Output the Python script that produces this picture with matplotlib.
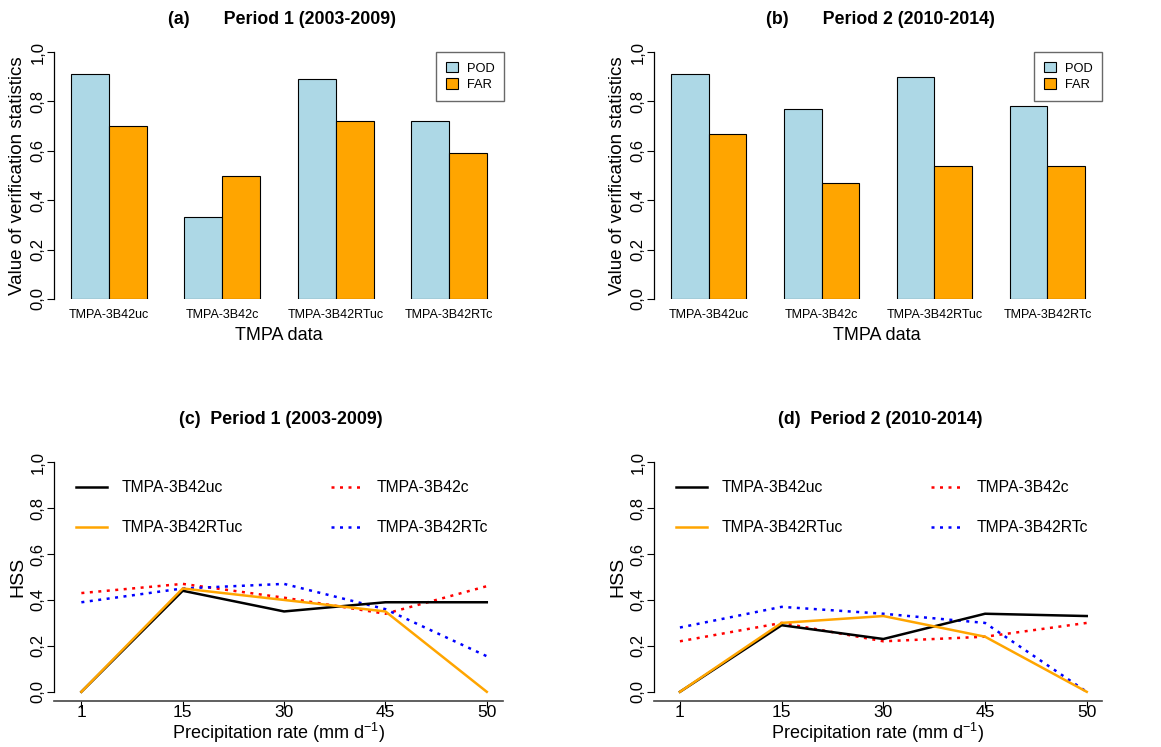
import numpy as np
import matplotlib.pyplot as plt
from matplotlib.patches import Patch
from matplotlib.lines import Line2D

plt.rcParams.update({
    "font.family": ["Liberation Sans", "DejaVu Sans"],
    "mathtext.fontset": "custom",
    "mathtext.rm": "Liberation Sans",
    "mathtext.default": "regular",
})

# --- data -------------------------------------------------------------------
products = ["TMPA-3B42uc", "TMPA-3B42c", "TMPA-3B42RTuc", "TMPA-3B42RTc"]
pod_p1 = [0.91, 0.33, 0.89, 0.72]
far_p1 = [0.70, 0.50, 0.72, 0.59]
pod_p2 = [0.91, 0.77, 0.90, 0.78]
far_p2 = [0.67, 0.47, 0.54, 0.54]

rates = ["1", "15", "30", "45", "50"]
hss_p1 = {
    "TMPA-3B42uc":   [0.00, 0.44, 0.35, 0.39, 0.39],
    "TMPA-3B42RTuc": [0.00, 0.45, 0.40, 0.35, 0.00],
    "TMPA-3B42c":    [0.43, 0.47, 0.41, 0.34, 0.46],
    "TMPA-3B42RTc":  [0.39, 0.45, 0.47, 0.36, 0.155],
}
hss_p2 = {
    "TMPA-3B42uc":   [0.00, 0.29, 0.23, 0.34, 0.33],
    "TMPA-3B42RTuc": [0.00, 0.30, 0.33, 0.24, 0.00],
    "TMPA-3B42c":    [0.22, 0.30, 0.22, 0.24, 0.30],
    "TMPA-3B42RTc":  [0.28, 0.37, 0.34, 0.30, 0.00],
}

POD_C, FAR_C = "#ADD8E6", "#FFA500"
LINE_STYLE = {
    "TMPA-3B42uc":   dict(color="black", ls="-"),
    "TMPA-3B42RTuc": dict(color="#FFA500", ls="-"),
    "TMPA-3B42c":    dict(color="red", ls=(0, (1.2, 2.2))),
    "TMPA-3B42RTc":  dict(color="blue", ls=(0, (1.2, 2.2))),
}

W, H = 1161, 747
fig = plt.figure(figsize=(W / 100, H / 100), dpi=100)


def px_axes(l, t, r, b):
    return fig.add_axes([l / W, 1 - b / H, (r - l) / W, (b - t) / H])


def ftext(x, y, s, **kw):
    fig.text(x / W, 1 - y / H, s, ha="center", va="center", **kw)


def yaxis_r(ax):
    ticks = np.arange(0, 1.01, 0.2)
    ax.set_yticks(ticks)
    ax.set_yticklabels([f"{t:.1f}".replace(".", ",") for t in ticks],
                       rotation=90, va="center", fontsize=12)
    ax.tick_params(axis="y", length=5, width=0.8, pad=1)
    ax.spines[["top", "right"]].set_visible(False)
    ax.spines["left"].set_bounds(0, 1)
    ax.spines["left"].set_linewidth(0.9)


def bar_panel(ax, pod, far):
    x = np.arange(len(products)) * 3
    ax.bar(x + 1.5, pod, width=1, color=POD_C, edgecolor="black", linewidth=0.8)
    ax.bar(x + 2.5, far, width=1, color=FAR_C, edgecolor="black", linewidth=0.8)
    ax.set_xlim(0.55, 12.45)
    ax.set_ylim(0, 1)
    ax.set_xticks(x + 2)
    ax.set_xticklabels(products, fontsize=9)
    ax.tick_params(axis="x", length=0, pad=7)
    yaxis_r(ax)
    ax.spines["bottom"].set_visible(False)
    ax.legend([Patch(fc=POD_C, ec="black", lw=0.8), Patch(fc=FAR_C, ec="black", lw=0.8)],
              ["POD", "FAR"], loc="upper right", borderaxespad=0, fontsize=9.3,
              frameon=True, fancybox=False, edgecolor="#444444",
              handlelength=0.9, handleheight=0.9, borderpad=0.75,
              labelspacing=0.3, handletextpad=0.7)
    ax.get_legend().get_frame().set_linewidth(1.0)


def line_panel(ax, data, xl):
    xs = np.arange(1, len(rates) + 1)
    for name in ["TMPA-3B42c", "TMPA-3B42RTc", "TMPA-3B42uc", "TMPA-3B42RTuc"]:
        ax.plot(xs, data[name], lw=1.8, label=name, **LINE_STYLE[name])
    ax.set_xlim(*xl)
    ax.set_ylim(-0.04, 1.04)
    ax.set_xticks(xs)
    ax.set_xticklabels(rates, fontsize=12.5)
    ax.tick_params(axis="x", length=5, width=0.8, pad=-2)
    yaxis_r(ax)
    ax.spines["bottom"].set_linewidth(1.2)
    ax.spines["bottom"].set_color("#444444")
    order = ["TMPA-3B42uc", "TMPA-3B42RTuc", "TMPA-3B42c", "TMPA-3B42RTc"]
    handles = [Line2D([], [], lw=1.8, **LINE_STYLE[n]) for n in order]
    ax.legend(handles, order, ncol=2, loc="upper left", frameon=False,
              bbox_to_anchor=(0.035, 0.915), borderaxespad=0, fontsize=11.3,
              handlelength=2.0, handletextpad=0.9, labelspacing=1.6,
              columnspacing=5.6)


# (a), (b) bar panels
ax_a = px_axes(54, 52, 504, 299)
bar_panel(ax_a, pod_p1, far_p1)
ax_b = px_axes(654, 52, 1102, 299)
bar_panel(ax_b, pod_p2, far_p2)

# (c), (d) line panels
ax_c = px_axes(54, 453, 503, 701)
line_panel(ax_c, hss_p1, (0.73, 5.16))
ax_d = px_axes(654, 453, 1102, 701)
line_panel(ax_d, hss_p2, (0.745, 5.15))

bold = dict(fontsize=12.8, fontweight="bold")
ftext(282, 19, "(a)       Period 1 (2003-2009)", **bold)
ftext(880, 19, "(b)       Period 2 (2010-2014)", **bold)
ftext(281, 420, "(c)  Period 1 (2003-2009)", **bold)
ftext(880, 420, "(d)  Period 2 (2010-2014)", **bold)

for x in (18, 618):
    ftext(x, 176, "Value of verification statistics", rotation=90, fontsize=13.5)
    ftext(x, 577, "HSS", rotation=90, fontsize=14)
ftext(279, 335, "TMPA data", fontsize=13)
ftext(877, 335, "TMPA data", fontsize=13)
ftext(279, 733, "Precipitation rate (mm d$^{-1}$)", fontsize=13)
ftext(878, 733, "Precipitation rate (mm d$^{-1}$)", fontsize=13)

fig.savefig("out.png", dpi=100, facecolor="white")
